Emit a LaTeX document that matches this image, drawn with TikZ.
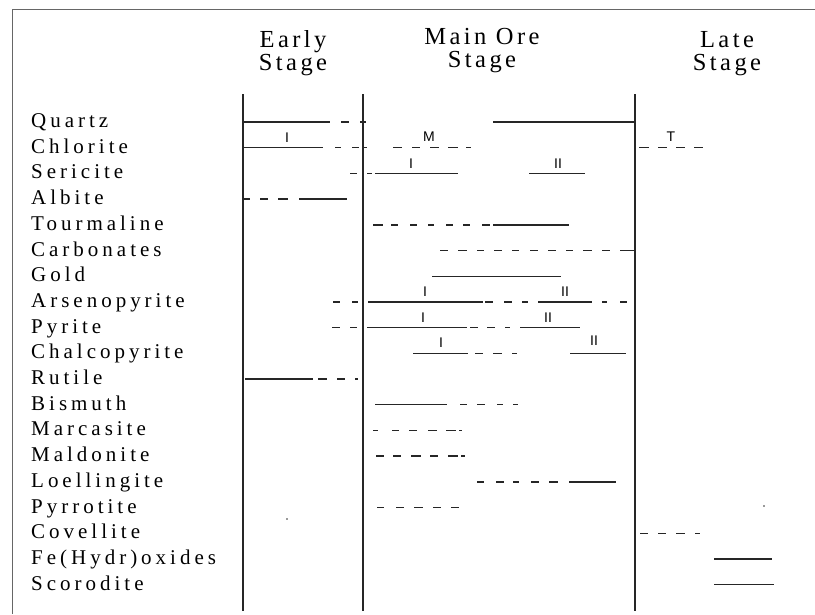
\documentclass[tikz,border=0pt]{standalone}
\usepackage{fontspec}
\setmainfont{Liberation Serif}
\newfontfamily\lblfont[LetterSpace=19]{Liberation Serif}
\newfontfamily\hdrfont[LetterSpace=14]{Liberation Serif}
\newfontfamily\mkfont{Liberation Sans}
\newcommand\rowsegs[2]{\foreach \a/\b in {#2}{\draw[bar] (\a,#1) -- (\b,#1);}}
\begin{document}
\begin{tikzpicture}[x=1pt,y=-1pt,
  bar/.style={line width=1.4pt,black!85},
  stageline/.style={line width=1.6pt,black!85},
  frame/.style={line width=0.9pt,black!60},
  lbl/.style={anchor=base west,inner sep=0pt,font=\lblfont\fontsize{21}{21}\selectfont},
  hdr/.style={anchor=north,inner sep=0pt,align=center,font=\hdrfont\fontsize{24.5}{23}\selectfont},
  mk/.style={anchor=base,inner sep=0pt,font=\mkfont\fontsize{14}{14}\selectfont}]
\path[use as bounding box] (0,0) rectangle (815,614);
\fill[white] (0,0) rectangle (815,614);
% frame
\draw[frame] (12,614) -- (12,9) -- (815,9);
% headers
\node[hdr] (early) at (293,30.3) {Early\\Stage};
\node[hdr] (main) at (482,28.4) {Main Ore\\Stage};
\node[hdr] (late) at (727,30.8) {Late\\Stage};
% stage lines
\draw[stageline] (243,94) -- (243,611);
\draw[stageline] (363,94) -- (363,611);
\draw[stageline] (635,94) -- (635,611);
% labels
\node[lbl] (quartz) at (31,127.5) {Quartz};
\node[lbl] (chlorite) at (31,153.2) {Chlorite};
\node[lbl] (sericite) at (31,178.9) {Sericite};
\node[lbl] (albite) at (31,204.6) {Albite};
\node[lbl] (tourmaline) at (31,230.3) {Tourmaline};
\node[lbl] (carbonates) at (31,256.0) {Carbonates};
\node[lbl] (gold) at (31,281.7) {Gold};
\node[lbl] (arseno) at (31,307.4) {Arsenopyrite};
\node[lbl] (pyrite) at (31,333.1) {Pyrite};
\node[lbl] (chalco) at (31,358.8) {Chalcopyrite};
\node[lbl] (rutile) at (31,384.5) {Rutile};
\node[lbl] (bismuth) at (31,410.2) {Bismuth};
\node[lbl] (marcasite) at (31,435.9) {Marcasite};
\node[lbl] (maldonite) at (31,461.6) {Maldonite};
\node[lbl] (loellingite) at (31,487.3) {Loellingite};
\node[lbl] (pyrrotite) at (31,513.0) {Pyrrotite};
\node[lbl] (covellite) at (31,538.7) {Covellite};
\node[lbl] (feox) at (31,564.4) {Fe(Hydr)oxides};
\node[lbl] (scorodite) at (31,590.1) {Scorodite};
% bars
\rowsegs{122}{244/330,341/349,360/366,493/635}
\rowsegs{147.7}{244/323,335/341,352/359,363/367,393/402,412/420,430/439,448/458,466/471,639/649,658/667,676/685,694/703}
\rowsegs{173.4}{350/357,367/372,375/458,529/585}
\rowsegs{199.1}{243/250,260/268,278/288,299/347}
\rowsegs{224.8}{373/383,391/398,410/417,428/434,446/453,463/470,482/490,493/569}
\rowsegs{250.5}{440/448,458/467,477/484,494/502,512/519,530/538,548/556,566/573,583/592,602/610,620/634}
\rowsegs{276.2}{432/561}
\rowsegs{301.9}{333/340,352/358,368/483,485/493,504/512,522/528,538/592,602/607,620/627}
\rowsegs{327.6}{332/340,350/357,367/467,470/478,487/495,505/510,520/580}
\rowsegs{353.3}{413/468,475/483,493/502,512/517,570/626}
\rowsegs{379}{245/313,318/327,337/345,355/358}
\rowsegs{404.7}{375/447,460/467,477/485,497/503,513/518}
\rowsegs{430.4}{373/378,392/399,409/417,428/437,446/456,459/462}
\rowsegs{456.1}{376/384,393/401,411/421,430/438,448/458,461/465}
\rowsegs{481.8}{477/484,496/504,513/519,531/539,549/558,569/616}
\rowsegs{507.5}{377/384,396/404,414/423,433/441,451/459}
\rowsegs{533.2}{640/648,658/666,676/685,695/700}
\rowsegs{558.9}{714/772}
\rowsegs{584.6}{714/774}
% stage marks
\node[mk] (chlI) at (287,142.7) {I};
\node[mk] (chlM) at (429,141.7) {M};
\node[mk] (chlT) at (671,141.7) {T};
\node[mk] (serI) at (411,168.4) {I};
\node[mk] (serII) at (558,168.4) {II};
\node[mk] (aspI) at (425,296.9) {I};
\node[mk] (aspII) at (565,296.9) {II};
\node[mk] (pyI) at (423,322.6) {I};
\node[mk] (pyII) at (548,322.6) {II};
\node[mk] (cpyI) at (441,347.3) {I};
\node[mk] (cpyII) at (594,345.3) {II};
% specks
\fill[black!80] (287,519) circle (0.9pt);
\fill[black!80] (764,506) circle (0.9pt);
\end{tikzpicture}
\end{document}
